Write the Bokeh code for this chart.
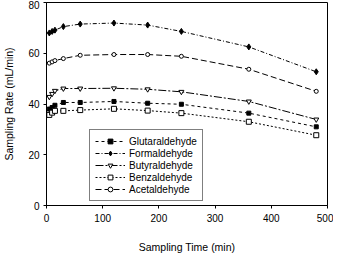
from bokeh.plotting import figure
from bokeh.models import FixedTicker, Legend, LegendItem
from bokeh.embed import file_html
from bokeh.resources import INLINE

times = [5, 10, 15, 30, 60, 120, 180, 240, 360, 480]
glutaraldehyde = [38.0, 38.6, 39.5, 40.6, 40.6, 41.0, 40.3, 39.9, 36.4, 31.0]
formaldehyde = [68.0, 68.6, 69.1, 70.5, 71.5, 71.9, 71.1, 68.6, 62.5, 52.7]
butyraldehyde = [42.8, 44.0, 45.2, 46.1, 46.1, 46.2, 45.8, 44.8, 41.0, 33.9]
benzaldehyde = [35.7, 36.6, 37.3, 37.3, 37.6, 38.1, 37.4, 36.4, 33.0, 27.7]
acetaldehyde = [56.1, 56.6, 57.1, 57.9, 59.2, 59.5, 59.5, 58.8, 53.7, 45.0]
x_ticks = [0, 100, 200, 300, 400, 500]
y_ticks = [0, 20, 40, 60, 80]

FONT = "Liberation Sans"

p = figure(frame_width=281, frame_height=203, x_range=(0, 500), y_range=(0, 80),
           output_backend="svg", toolbar_location=None,
           min_border_left=38, min_border_right=6, min_border_top=2, min_border_bottom=41)
p.xgrid.visible = False
p.ygrid.visible = False
p.outline_line_color = "black"
p.outline_line_width = 1
p.background_fill_color = "white"
p.border_fill_color = "white"

for ax in (p.xaxis[0], p.yaxis[0]):
    ax.major_label_text_font = FONT
    ax.major_label_text_font_size = "10px"
    ax.major_label_text_color = "black"
    ax.axis_label_text_font = FONT
    ax.axis_label_text_font_size = "10.5px"
    ax.axis_label_text_font_style = "normal"
    ax.axis_label_text_color = "black"
    ax.axis_line_color = "black"
    ax.major_tick_line_color = "black"
    ax.major_tick_in = 0
    ax.major_tick_out = 3
    ax.minor_tick_line_color = None

p.xaxis.major_label_standoff = 5
p.yaxis.major_label_standoff = 4
p.xaxis.ticker = FixedTicker(ticks=x_ticks)
p.yaxis.ticker = FixedTicker(ticks=y_ticks)
p.xaxis.axis_label = "Sampling Time (min)"
p.yaxis.axis_label = "Sampling Rate (mL/min)"
p.xaxis.axis_label_standoff = 16
p.yaxis.axis_label_standoff = 10

series = [
    ("Glutaraldehyde", glutaraldehyde, "3 3", "square", "black", 4),
    ("Formaldehyde", formaldehyde, "4 2 1 2", "diamond", "black", 6),
    ("Butyraldehyde", butyraldehyde, "8 2 2 2", "inverted_triangle", "white", 5),
    ("Benzaldehyde", benzaldehyde, "2 2", "square", "white", 5),
    ("Acetaldehyde", acetaldehyde, "6 3", "circle", "white", 4),
]

items = []
for name, vals, dash, marker, fill, size in series:
    l = p.line(times, vals, line_color="black", line_width=1, line_dash=dash)
    s = p.scatter(times, vals, marker=marker, size=size, line_color="black",
                  fill_color=fill, line_width=1)
    items.append(LegendItem(label=name, renderers=[l, s]))

legend = Legend(items=items, location=(43, 4))
legend.label_text_font = FONT
legend.label_text_font_size = "10px"
legend.label_text_color = "black"
legend.border_line_color = "black"
legend.border_line_width = 1
legend.background_fill_alpha = 1
legend.padding = 5
legend.margin = 0
legend.spacing = 0
legend.label_height = 12
legend.glyph_height = 12
legend.glyph_width = 30
legend.label_standoff = 4
legend.label_text_baseline = "middle"
p.add_layout(legend, "center")

open("out.html", "w").write(file_html(p, INLINE))
